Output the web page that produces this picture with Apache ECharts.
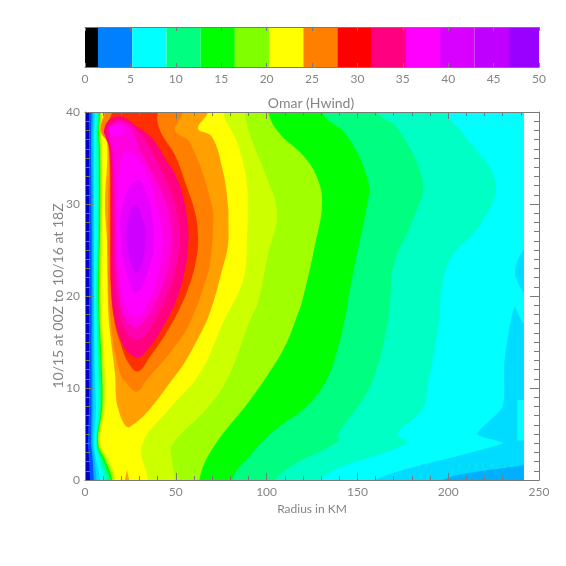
<!DOCTYPE html>
<html><head><meta charset="utf-8">
<style>html,body{margin:0;padding:0;background:#fff}#c{width:566px;height:566px}</style>
<script src="https://cdn.jsdelivr.net/npm/echarts@6/dist/echarts.min.js"></script>
</head><body><div id="c"></div>
<script>
// Colour bar
const barEdges=[0,1.43,5.2,8.97,12.74,16.5,20.3,24.05,27.8,31.6,35.35,39.1,42.9,46.7,50];
const barColors=['#000000','#0080ff','#00ffff','#00ff80','#00ff00','#80ff00','#ffff00','#ff8000','#ff0000','#ff0080','#ff00ff','#d800ff','#c000ff','#9800ff'];
const barTicks=[0,5,10,15,20,25,30,35,40,45,50];
// Contour plot: left flank rows (time) and radius of each contour on the left flank
const leftT=[40,37.5,36,27,20,11.4,7.8,4,2.2,0];
const leftA=[2.2,2.2,2.2,2.2,2.2,2.2,2.2,1.6,2.2,2.8];
const leftB=[3.6,3.3,3.3,3.6,3.6,3.6,3.6,3.3,4.2,4.8];
const leftC=[4.6,4.2,4.2,4.6,4.6,4.6,4.6,4.2,5.2,6.3];
const leftD=[5.5,5,5,5,5,5.5,6.1,5,6.1,8.3];
const leftE=[6.6,6.1,6.1,6.6,6.1,7.2,7.2,6.1,7.7,10.5];
const leftF=[7.2,6.6,7.2,7.2,6.6,7.7,8.3,6.6,8.8,12.1];
const leftG=[7.7,7.2,7.7,7.7,7.2,8.8,8.8,6.6,9.9,13.8];
const leftH=[8.3,7.7,8.3,8.3,7.7,9.4,9.4,7.2,11,14.9];
const leftI=[8.8,8.3,8.8,8.8,8.3,9.9,9.9,7.7,12.1,16];
const leftJ=[9.4,8.8,9.4,9.4,8.8,11,11,8.3,13.2,16.5];
// Right flank of each contour: [radius km, time]
const outerA=[[255,40],[255,0]];
const outerB=[[255,40],[255,0]];
const outerC=[[255,40],[255,2],[241.7,1.6],[197,0]];
const outerD=[[255,40],[255,25.2],[241.7,25],[237.5,23.5],[237,22.2],[241.7,20.4],[255,20],[255,17],[241.7,17],[236.5,18.8],[231,13],[230,8],[216,5],[230,4],[160,0]];
const holeD=[[238,8.7],[245,8.7],[245,4.3],[238,4.3]];
const outerE=[[199,40],[208,37.7],[226,32.3],[217.5,27.7],[201,24],[195.5,19.4],[195.5,17.8],[189,10.5],[185.6,7.6],[172,5],[177,4],[129,0]];
const outerF=[[161,40],[172,38.3],[186,32.4],[181,28.5],[170,23.4],[168,19.4],[166,16.3],[161,12.3],[155,9.4],[139,4.9],[140,4.3],[104.6,0]];
const outerG=[[130.5,40],[144,37.5],[156,32.4],[155,29.6],[150,24.8],[145,19.8],[144,18.5],[140,14.9],[133,10.9],[122,8],[103,5.2],[91,2.7],[81,0]];
const outerH=[[101,40],[107,37.7],[120,35.3],[128,32.8],[130.5,29.9],[126.6,25.5],[119.5,19.4],[116.5,17.7],[111,14.9],[103.5,12.3],[91,8.7],[70.5,3.5],[63,0]];
const outerI=[[88.1,40],[90.9,37.5],[98,33.9],[105.7,29.1],[100.8,24.5],[95.3,19.3],[90.9,17.4],[78.2,10.9],[67.2,7.8],[47.9,3.8],[47.9,2.2],[49.6,0]];
const outerJ=[[76,40],[83.7,36.7],[89.2,32.1],[89.2,26.1],[87,21.7],[76,17.1],[63.3,11.6],[46.8,7.8],[31.4,3.8],[34.7,0]];
// Closed contours around the wind maximum
const ringK=[[67.7,43],[67.7,40],[62.2,38.2],[69.9,37.3],[76,33.5],[78.7,29.9],[79,27.7],[78.7,25.5],[76,23.2],[68.8,18.2],[61.7,15.2],[50.7,11.6],[24.8,5.8],[18.2,7.8],[16.5,11.6],[13.8,16],[12.7,18.8],[12.1,26.1],[11,29.9],[12.1,36.7],[8.3,38],[10.5,40],[10.5,43]];
const ringL=[[54,43],[54,40],[49.6,38],[57.8,36.7],[69.9,29.9],[70.5,27.4],[69.4,24.5],[67.7,22.5],[57.8,17.1],[47.9,14.1],[34.1,10.9],[28.6,9.6],[22,10.7],[19.3,11.6],[15.4,15.2],[12.7,21.7],[12.7,29.9],[12.7,36.4],[8.8,38],[11,40],[11,43]];
const ringM=[[39.6,43],[39.6,40],[41.3,38],[49.6,35.3],[55.6,32.1],[60.6,29.1],[62.2,26.6],[61.7,24.5],[58.4,21.7],[52.3,18.7],[44.1,15.8],[35.8,13.4],[29.2,11.8],[23.7,12.8],[19.3,15],[16,17.4],[14.3,20.7],[13.8,25],[13.8,29.9],[13.2,36.2],[10.7,38],[14.9,40],[14.9,43]];
const ringN=[[10.5,38],[13.2,39.1],[19.8,39.5],[28.6,38.4],[36.3,37.3],[44.6,34.8],[50.7,32.8],[54.5,30.4],[56.7,27.7],[56.7,25],[54.5,22.3],[49.6,19.2],[41.3,16.1],[34.1,14.1],[29.2,13.3],[23.7,13.9],[19.3,15.4],[16,17.9],[14.3,21.2],[14.3,27.2],[13.8,35.7],[11.6,37.2]];
const ringO=[[12.1,38],[14.9,38.9],[20.4,39.1],[27.5,38.3],[34.1,36.6],[41.3,33.9],[47.9,31],[51.2,28.3],[51.8,25.5],[49.6,22.6],[44.1,19.6],[35.8,16.5],[28.6,15.2],[22.6,16.1],[18.7,18.3],[16.5,21.7],[15.4,28.3],[14.9,34.8],[13.8,36.4]];
const ringP=[[13.2,38],[16,38.7],[21.5,38.8],[25.9,38],[30.3,35.9],[36.9,33.5],[43,31],[46.8,28.3],[47.4,25.5],[45.2,22.6],[39.6,19.6],[33,17.4],[27.5,16.6],[22,17.6],[18.7,20.1],[17.1,23.9],[16.5,28.3],[16,34.2],[14.9,36.1]];
const blobQ=[[13.2,38],[17.1,38.6],[22,38],[17.1,37.4]];
const ringQ=[[23.1,35.7],[29.2,34.8],[34.7,32.8],[39.6,29.9],[42.4,27.2],[42.4,25],[40.2,22.3],[35.8,19.8],[28.6,17.7],[22.6,18.9],[19.3,21.7],[17.6,26.6],[18.2,31.5],[19.3,34.2]];
const ringR=[[28.6,32.6],[34.1,31],[36.9,28.8],[38,26.1],[35.8,23.4],[28.6,20.4],[23.1,22.3],[19.8,26.1],[20.9,29.9]];
const ringS=[[27.5,29.9],[31.9,28.3],[33.6,26.1],[28.6,22.6],[23.7,25],[23.1,27.7]];
const spikeK=[[21.5,-0.5],[23.1,1.1],[24.8,-0.5]];
const lastRadius=241.7;
const baseRing=[[-5,45],[255,45],[255,-5],[-5,-5]];
const yName='10/15 at 00Z to 10/16 at 18Z';

function band(outer,left){
  const l=left.map((r,i)=>[r,leftT[i]]);
  return [[outer[0][0],44],...outer,[outer[outer.length-1][0],-4],[l[l.length-1][0],-4],...l.slice().reverse(),[l[0][0],44]];
}
const layers=[
 ['#0000c8',baseRing,0],
 ['#0050ff',band(outerA,leftA),0],
 ['#00b0ff',band(outerB,leftB),0],
 ['#00dcff',band(outerC,leftC),0.2],
 ['#00ffff',band(outerD,leftD),0.2],
 ['#00ffff',holeD,0],
 ['#00ffc4',band(outerE,leftE),0.4],
 ['#00ff80',band(outerF,leftF),0.4],
 ['#00ff00',band(outerG,leftG),0.4],
 ['#a0ff00',band(outerH,leftH),0.4],
 ['#ccff00',band(outerI,leftI),0.4],
 ['#ffff00',band(outerJ,leftJ),0.4],
 ['#ffa000',ringK,0.4],['#ffa000',spikeK,0],
 ['#ff8000',ringL,0.4],
 ['#ff3000',ringM,0.4],
 ['#ff0080',ringN,0.4],
 ['#ff00b0',ringO,0.4],
 ['#ff00e0',ringP,0.4],
 ['#ff00ff',blobQ,0.6],['#ff00ff',ringQ,0.5],
 ['#e800ff',ringR,0.5],
 ['#d000ff',ringS,0.5]
];
const gray='#7a7a7a';
const fontFamily='Lato, "Liberation Sans", sans-serif';
const labelFont={color:'#858585',fontFamily,fontSize:12};
const series=layers.map(([color,pts,smooth])=>({
  type:'custom',xAxisIndex:1,yAxisIndex:1,silent:true,animation:false,
  coordinateSystem:'cartesian2d',encode:{x:0,y:1},data:pts,clip:false,z:2,
  renderItem(params,api){
    if(params.dataIndex!==0) return null;
    const a=api.coord([0,40]),b=api.coord([lastRadius,0]);
    return {type:'polygon',shape:{points:pts.map(p=>api.coord(p)),smooth},
      style:{fill:color,stroke:null},
      clipPath:{type:'rect',shape:{x:a[0],y:a[1],width:b[0]-a[0],height:b[1]-a[1]}}};
  }
}));
series.push({type:'custom',xAxisIndex:0,yAxisIndex:0,silent:true,animation:false,z:2,
  encode:{x:[0,1]},
  data:barColors.map((c,i)=>[barEdges[i],barEdges[i+1]]),
  renderItem(params,api){
    const a=api.coord([api.value(0),1]),b=api.coord([api.value(1),0]);
    return {type:'rect',shape:{x:a[0],y:a[1],width:b[0]-a[0],height:b[1]-a[1]},style:{fill:barColors[params.dataIndex],stroke:null}};
  }});
// empty series that keep the frame axes (top, right) alive
const noDraw=()=>null;
series.push({type:'custom',xAxisIndex:2,yAxisIndex:2,silent:true,data:[[0,0],[250,40]],renderItem:noDraw});
series.push({type:'custom',xAxisIndex:3,yAxisIndex:0,silent:true,data:[[0,0],[50,1]],renderItem:noDraw});
const line={show:true,onZero:false,lineStyle:{color:gray,width:1}};
const tick=(len)=>({show:true,inside:true,length:len,lineStyle:{color:gray,width:1}});
const minor=(n,len)=>({show:true,splitNumber:n,length:len,lineStyle:{color:gray,width:1}});
const opt={
 animation:false,backgroundColor:'#fff',
 title:{text:'Omar (Hwind)',left:306,top:91,textAlign:'center',textStyle:{color:'#858585',fontFamily,fontWeight:'normal',fontSize:14}},
 graphic:[{type:'text',x:58,y:296,rotation:Math.PI/2,silent:true,
   style:{text:yName,fill:'#858585',font:'14px '+fontFamily,textAlign:'center',textVerticalAlign:'middle'}}],
 grid:[{left:85,top:27,width:454,height:40},{left:85,top:112,width:454,height:368}],
 xAxis:[
  {gridIndex:0,type:'value',min:0,max:50,interval:5,position:'bottom',z:10,axisLine:line,axisTick:tick(4),splitLine:{show:false},axisLabel:{...labelFont,margin:6}},
  {gridIndex:1,type:'value',min:0,max:250,interval:50,position:'bottom',z:10,axisLine:line,axisTick:tick(7),minorTick:minor(5,4),splitLine:{show:false},minorSplitLine:{show:false},
   axisLabel:{...labelFont,margin:6},name:'Radius in KM',nameLocation:'middle',nameGap:14,nameTextStyle:{...labelFont}},
  {gridIndex:1,type:'value',min:0,max:250,interval:50,position:'top',z:10,axisLine:line,axisTick:tick(7),minorTick:minor(5,4),splitLine:{show:false},axisLabel:{show:false}},
  {gridIndex:0,type:'value',min:0,max:50,interval:5,position:'top',z:10,axisLine:line,axisTick:tick(4),splitLine:{show:false},axisLabel:{show:false}}
 ],
 yAxis:[
  {gridIndex:0,type:'value',min:0,max:1,interval:1,axisLine:{show:false},axisTick:{show:false},axisLabel:{show:false},splitLine:{show:false}},
  {gridIndex:1,type:'value',min:0,max:40,interval:10,position:'left',z:10,axisLine:line,axisTick:tick(9),minorTick:minor(10,5),splitLine:{show:false},
   axisLabel:{...labelFont,margin:5}},
  {gridIndex:1,type:'value',min:0,max:40,interval:10,position:'right',z:10,axisLine:line,axisTick:tick(9),minorTick:minor(10,5),splitLine:{show:false},axisLabel:{show:false}}
 ],
 series
};
const chart=echarts.init(document.getElementById('c'),null,{renderer:'canvas'});
chart.setOption(opt);
</script></body></html>
